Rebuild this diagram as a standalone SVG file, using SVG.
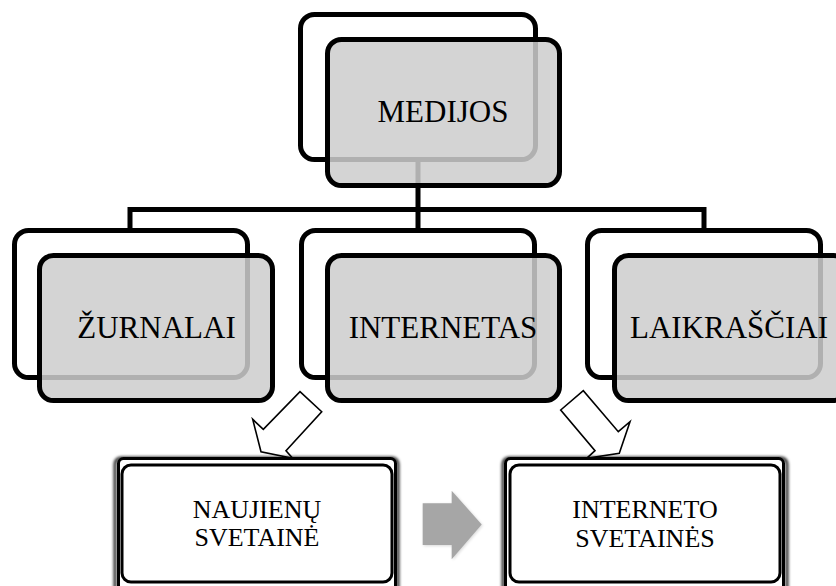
<svg xmlns="http://www.w3.org/2000/svg" width="836" height="586" viewBox="0 0 836 586">
<defs>
<style>
.back{fill:#ffffff;stroke:#000;stroke-width:5}
.front{fill:#cdcdcd;fill-opacity:0.86;stroke:#000;stroke-width:5}
.conn{fill:none;stroke:#000;stroke-width:5}
.t1{font-family:"Liberation Serif","Times New Roman",serif;font-size:31px;fill:#000;text-anchor:middle}
.t2{font-family:"Liberation Serif","Times New Roman",serif;font-size:26px;fill:#000;text-anchor:middle}
.hollow{fill:#fff;stroke:#000;stroke-width:1.6;stroke-linejoin:miter}
.frame{fill:#fff;stroke:#000;stroke-width:3}
.inner{fill:none;stroke:#000;stroke-width:3}
</style>
<filter id="blur" x="-10%" y="-10%" width="120%" height="120%"><feGaussianBlur stdDeviation="1.5"/></filter>
</defs>
<rect width="836" height="586" fill="#fff"/>

<g id="medijos">
<rect class="back" x="300.5" y="14.5" width="235" height="145" rx="14"/>
</g>

<g id="connectors">
<path class="conn" d="M418 160 V231 M130 231 V209.5 H704 V231"/>
</g>

<g id="medijos-front">
<rect class="front" x="327.5" y="39.5" width="232" height="146" rx="14"/>
<text class="t1" x="443" y="122">MEDIJOS</text>
</g>

<g id="zurnalai">
<rect class="back" x="14.5" y="230.5" width="233" height="147" rx="14"/>
<rect class="front" x="39.5" y="255.5" width="233" height="145" rx="14"/>
<text class="t1" x="156.5" y="338">ŽURNALAI</text>
</g>

<g id="internetas">
<rect class="back" x="301.5" y="230.5" width="233" height="147" rx="14"/>
<rect class="front" x="327.5" y="255.5" width="232" height="145" rx="14"/>
<text class="t1" x="443" y="338">INTERNETAS</text>
</g>

<g id="laikrasciai">
<rect class="back" x="587.5" y="230.5" width="233" height="147" rx="14"/>
<rect class="front" x="614.5" y="255.5" width="233" height="145" rx="14"/>
<text class="t1" x="729" y="338">LAIKRAŠČIAI</text>
</g>

<g id="arrows">
<polygon class="hollow" points="300,391.7 321.7,411.7 286,450.7 292.7,458.3 261,451.7 252.7,419.3 263.3,429.3"/>
<polygon class="hollow" points="560.7,410 583.3,390.7 618.3,431.7 630,421.7 619.3,453.3 586.7,458.3 595,450.7"/>
<polygon points="422.7,503.3 451.7,503.3 451.7,490.7 481.7,524.5 451.7,559.3 451.7,545 422.7,545" fill="#000" opacity="0.15" filter="url(#blur)" transform="translate(1,1)"/>
<polygon points="422.7,503.3 451.7,503.3 451.7,490.7 481.7,524.5 451.7,559.3 451.7,545 422.7,545" fill="#a6a6a6"/>
</g>

<g id="naujienu">
<rect x="115" y="458" width="283" height="140" rx="6" fill="none" stroke="#000" stroke-width="2.5" filter="url(#blur)"/>
<rect class="frame" x="118.5" y="458.5" width="277" height="135" rx="5"/>
<rect class="inner" x="122" y="465" width="270" height="117" rx="9"/>
<text class="t2" x="257" y="518">NAUJIENŲ</text>
<text class="t2" x="257" y="546">SVETAINĖ</text>
</g>

<g id="interneto">
<rect x="503" y="458" width="284" height="140" rx="6" fill="none" stroke="#000" stroke-width="2.5" filter="url(#blur)"/>
<rect class="frame" x="505.5" y="458.5" width="278" height="135" rx="5"/>
<rect class="inner" x="510" y="465" width="270" height="117" rx="9"/>
<text class="t2" x="645" y="518">INTERNETO</text>
<text class="t2" x="645" y="547">SVETAINĖS</text>
</g>
</svg>
